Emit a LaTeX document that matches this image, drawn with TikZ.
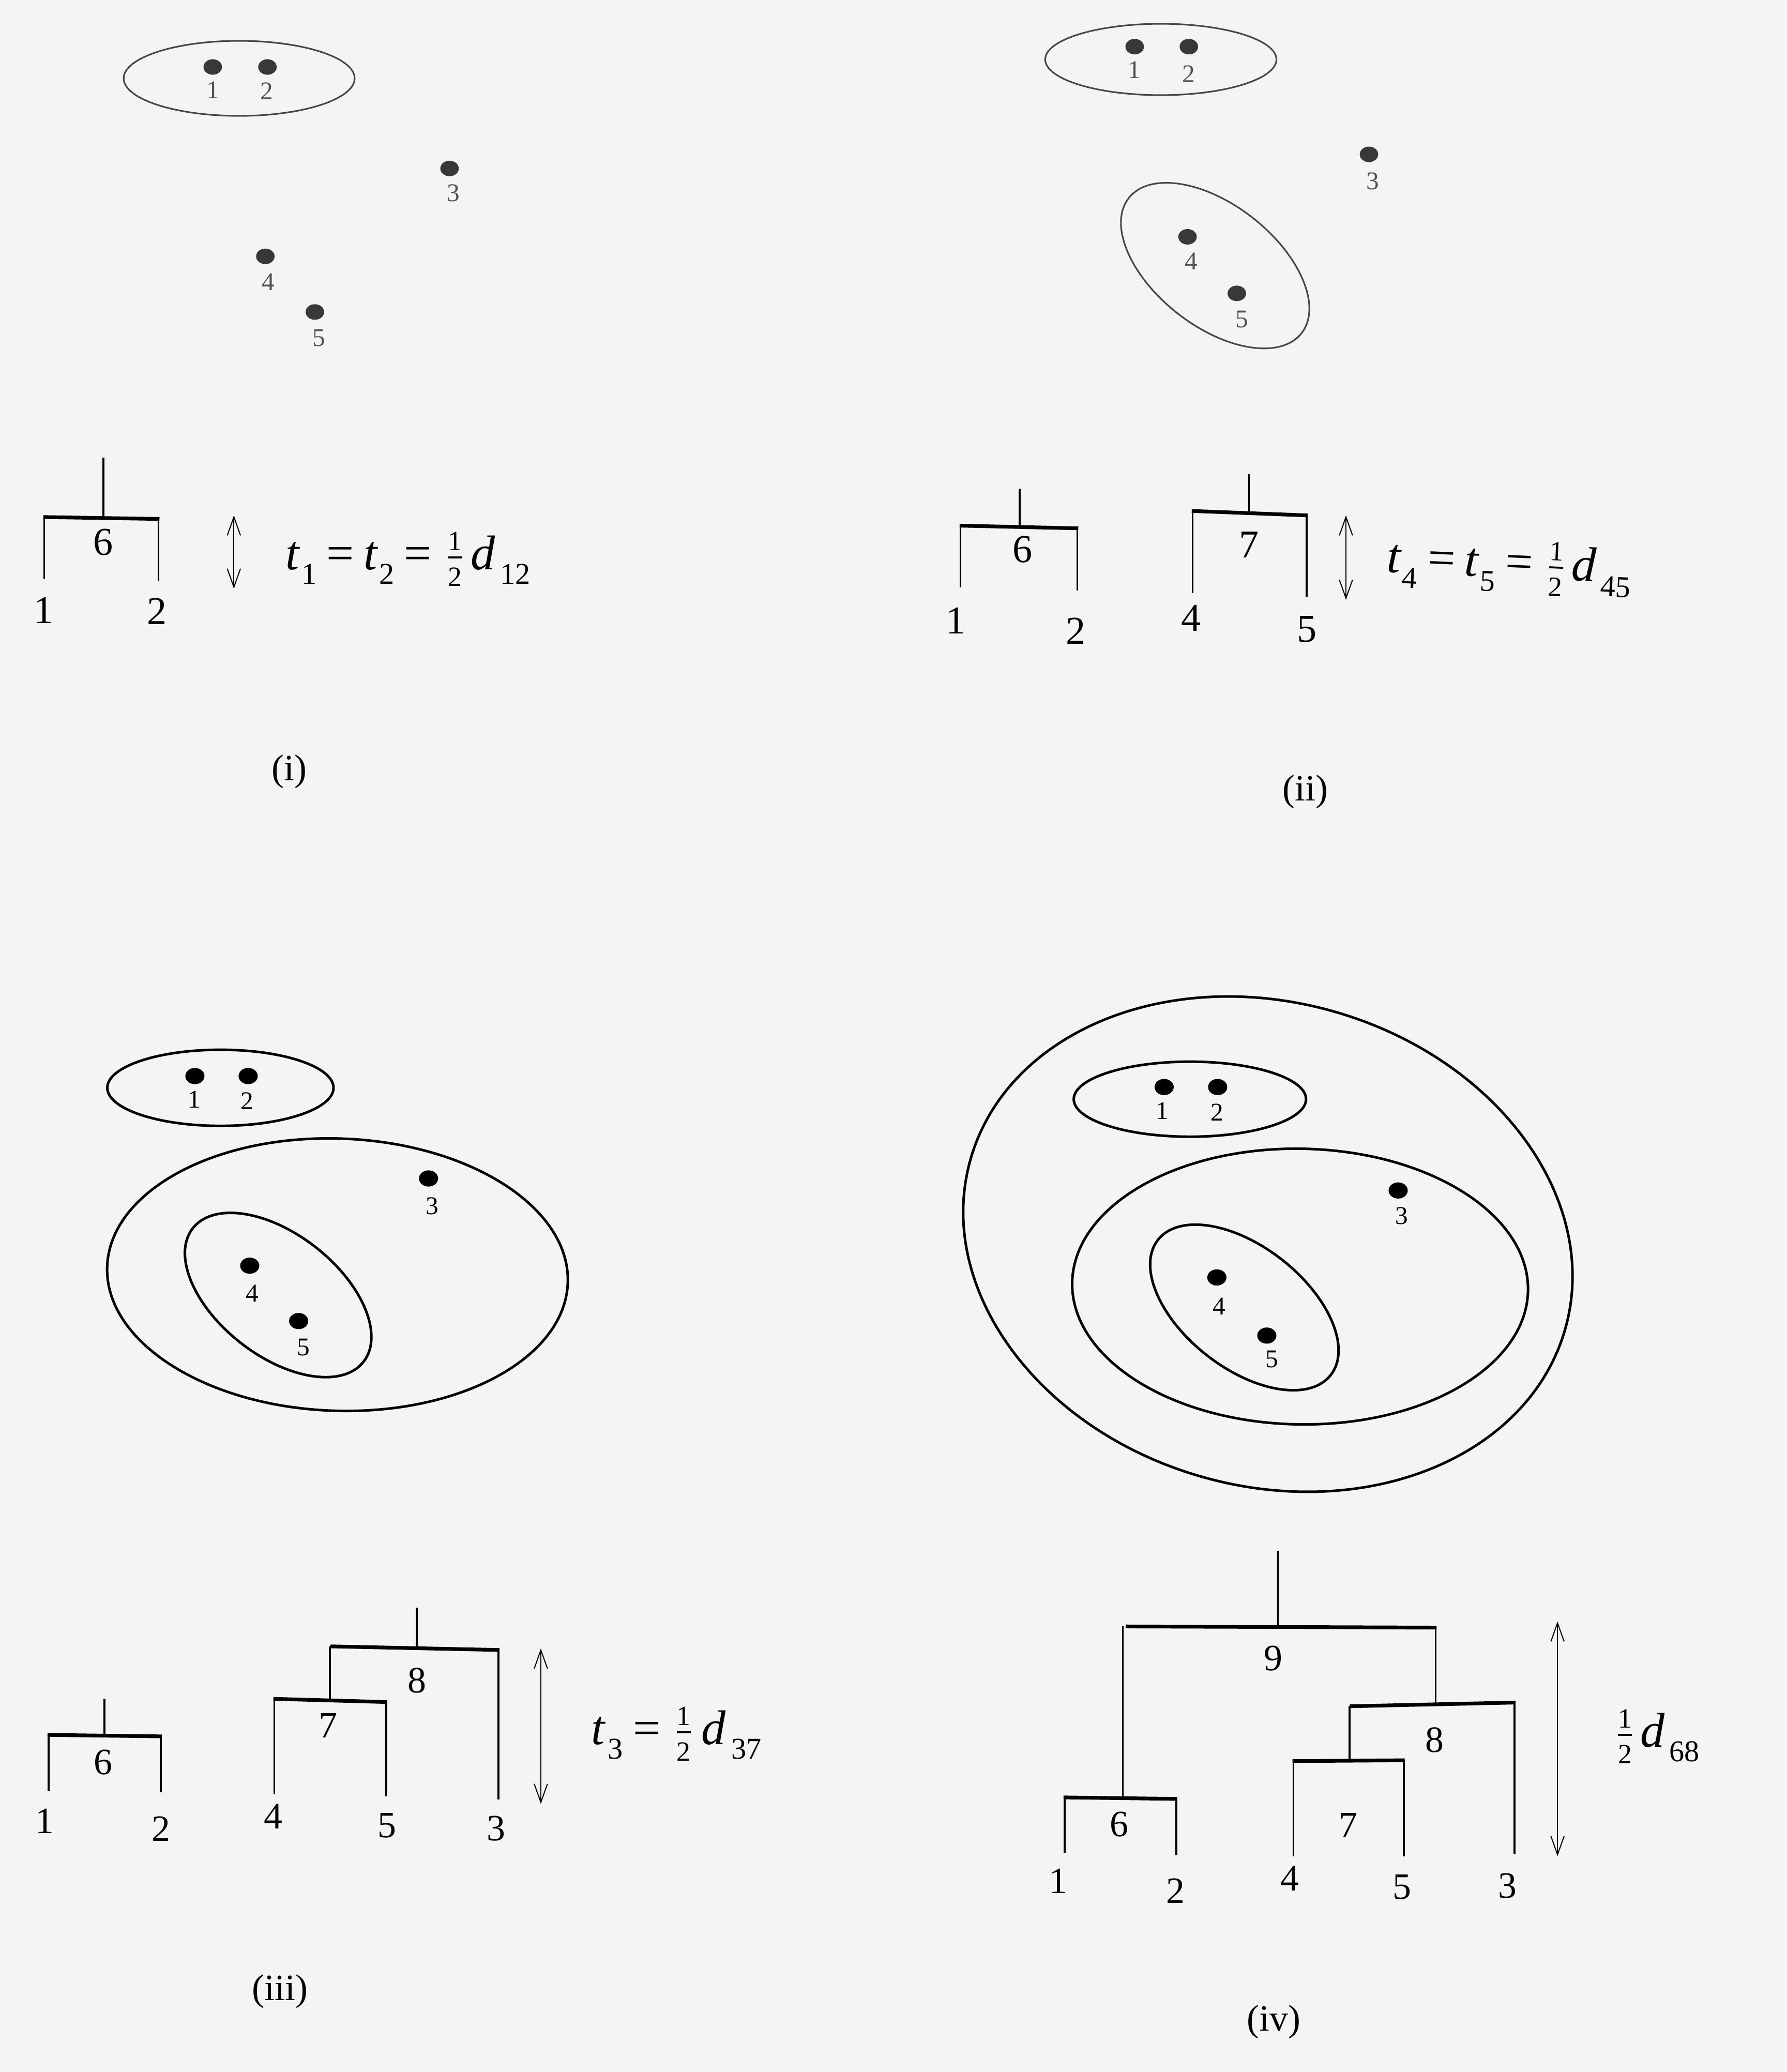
\documentclass[tikz,border=0pt]{standalone}
\usepackage{fontspec}
\setmainfont{Liberation Serif}
\usepackage{amsmath}
\usetikzlibrary{arrows.meta,shapes.geometric}
\definecolor{paper}{RGB}{244,244,242}
\newcommand{\vt}{\textit{t}}
\newcommand{\vd}{\textit{d}}
\newcommand{\sbs}[1]{\raisebox{-0.3em}{\fontsize{13}{15}\selectfont #1}}
\newcommand{\eqs}{\hspace{0.2em}=\hspace{0.2em}}
\newcommand{\half}{\hspace{0.08em}$\tfrac{\text{\fontsize{12}{13}\selectfont 1}}{\text{\fontsize{12}{13}\selectfont 2}}$}
\newcommand{\dbrk}[6]{%
  \draw[vl] (#1,#2) -- (#1,#5);
  \draw[vl] (#3,#4) -- (#3,#6);
  \draw[hb] (#1,#2) -- (#3,#4);}
\tikzset{
  ellA/.style={draw=black!72, line width=0.7pt},
  ellB/.style={draw=black, line width=1.1pt},
  dotA/.style={ellipse, fill=black!78, inner sep=0pt, minimum width=0.28cm, minimum height=0.235cm},
  dotB/.style={ellipse, fill=black, inner sep=0pt, minimum width=0.29cm, minimum height=0.245cm},
  labA/.style={inner sep=0pt, text=black!68, font=\fontsize{11}{13}\selectfont},
  labB/.style={inner sep=0pt, text=black, font=\fontsize{11}{13}\selectfont},
  dlabA/.style={inner sep=0pt, font=\fontsize{17}{20}\selectfont},
  dlabB/.style={inner sep=0pt, font=\fontsize{16}{19}\selectfont},
  vl/.style={line width=0.8pt, line cap=butt},
  hb/.style={line width=1.6pt, shorten <=-0.4pt, shorten >=-0.4pt},
  dbl/.style={line width=0.45pt, {Straight Barb[length=0.28cm,width=0.2cm]}-{Straight Barb[length=0.28cm,width=0.2cm]}},
  frm/.style={inner sep=0pt, anchor=base west, font=\fontsize{21}{24}\selectfont},
  plab/.style={inner sep=0pt, font=\fontsize{16}{19}\selectfont},
}
\begin{document}
\begin{tikzpicture}[x=0.02cm,y=0.02cm]
\useasboundingbox[fill=paper] (0,0) rectangle (1352,-1568);

% ================= panel (i) =================
\draw[ellA] (181,-59.3) ellipse [x radius=87.4, y radius=28.4];
\node[dotA] (ia1) at (161,-50.7) {};
\node[dotA] (ia2) at (202.4,-50.7) {};
\node[dotA] (ia3) at (340.2,-127.5) {};
\node[dotA] (ia4) at (200.8,-194) {};
\node[dotA] (ia5) at (238.3,-236.1) {};
\node[labA] (il1) at (161,-68) {1};
\node[labA] (il2) at (202,-69) {2};
\node[labA] (il3) at (343,-146) {3};
\node[labA] (il4) at (203,-213.4) {4};
\node[labA] (il5) at (241.3,-255.6) {5};

\draw[vl] (78.2,-346.5) -- (78.2,-392);
\dbrk{33.5}{-391.3}{120}{-392.7}{-438.2}{-439.5}
\node[dlabA] (id6) at (78.2,-410.5) {6};
\node[dlabA] (id1) at (33,-462) {1};
\node[dlabA] (id2) at (118.6,-462.6) {2};
\coordinate (iat) at (177,-390);
\coordinate (iab) at (177,-445.5);
\draw[dbl] (iat) -- (iab);
\node[frm] (if) at (216,-431) {\vt\sbs{\hspace{0.04em}1}\eqs\vt\sbs{\hspace{0.04em}2}\eqs\half\hspace{0.12em}\vd\sbs{\hspace{0.16em}12}};
\node[plab] (ip) at (219,-584) {(i)};

% ================= panel (ii) =================
\draw[ellA] (878.5,-45) ellipse [x radius=87.5, y radius=27];
\draw[ellA, rotate around={-38:(919.6,-201)}] (919.6,-201) ellipse [x radius=83, y radius=46];
\node[dotA] (iia1) at (858.7,-35.3) {};
\node[dotA] (iia2) at (899.7,-35.3) {};
\node[dotA] (iia3) at (1036,-116.8) {};
\node[dotA] (iia4) at (898.7,-179.2) {};
\node[dotA] (iia5) at (936,-222) {};
\node[labA] (iil1) at (858.3,-52.8) {1};
\node[labA] (iil2) at (899.4,-56) {2};
\node[labA] (iil3) at (1038.7,-137) {3};
\node[labA] (iil4) at (901.7,-197.8) {4};
\node[labA] (iil5) at (940,-241.5) {5};

\draw[vl] (771.6,-369.8) -- (771.6,-398.6);
\dbrk{726.9}{-397.8}{815.3}{-399.8}{-444.7}{-446.7}
\node[dlabA] (iid6) at (774,-416) {6};
\node[dlabA] (iid1) at (723.4,-469.5) {1};
\node[dlabA] (iid2) at (814.2,-477.3) {2};
\draw[vl] (945.2,-358.7) -- (945.2,-388.4);
\dbrk{902.6}{-386.7}{988.9}{-390}{-448.7}{-451.9}
\node[dlabA] (iid7) at (945.2,-412.1) {7};
\node[dlabA] (iid4) at (901.5,-467.6) {4};
\node[dlabA] (iid5) at (988.9,-476) {5};
\coordinate (iiat) at (1018.6,-390);
\coordinate (iiab) at (1018.6,-453.9);
\draw[dbl] (iiat) -- (iiab);
\node[frm, rotate=-2.5] (iif) at (1049,-433) {\vt\sbs{\hspace{0.04em}4}\eqs\vt\sbs{\hspace{0.04em}5}\eqs\half\hspace{0.12em}\vd\sbs{\hspace{0.16em}45}};
\node[plab] (iip) at (988,-599) {(ii)};

% ================= panel (iii) =================
\draw[ellB] (166.8,-823.2) ellipse [x radius=85.6, y radius=28.8];
\draw[ellB, rotate around={-2:(255.4,-964.6)}] (255.4,-964.6) ellipse [x radius=174.4, y radius=103];
\draw[ellB, rotate around={-38:(210.5,-980)}] (210.5,-980) ellipse [x radius=82, y radius=46];
\node[dotB] (iiia1) at (147.5,-814.3) {};
\node[dotB] (iiia2) at (187.8,-814.3) {};
\node[dotB] (iiia3) at (324.3,-891.8) {};
\node[dotB] (iiia4) at (189,-957.8) {};
\node[dotB] (iiia5) at (226,-999.7) {};
\node[labB] (iiil1) at (147,-832) {1};
\node[labB] (iiil2) at (187,-833) {2};
\node[labB] (iiil3) at (327,-912.8) {3};
\node[labB] (iiil4) at (191,-978.8) {4};
\node[labB] (iiil5) at (229.7,-1019.7) {5};

\draw[vl] (79.1,-1285.6) -- (79.1,-1313.4);
\dbrk{36.7}{-1312.9}{121.8}{-1314}{-1355.4}{-1356.2}
\node[dlabB] (iiid6) at (77.9,-1333.5) {6};
\node[dlabB] (iiid1) at (33.9,-1378) {1};
\node[dlabB] (iiid2) at (121.8,-1383.8) {2};
\draw[vl] (315.4,-1216.7) -- (315.4,-1247.3);
\draw[vl] (249.6,-1246) -- (249.6,-1287);
\dbrk{250.8}{-1245.9}{377.3}{-1248.6}{-1245.9}{-1361.9}
\dbrk{207.6}{-1285.6}{292.3}{-1288}{-1357.8}{-1359.4}
\node[dlabB] (iiid7) at (248.4,-1305.9) {7};
\node[dlabB] (iiid8) at (315.4,-1271.8) {8};
\node[dlabB] (iiid4) at (206.8,-1374.8) {4};
\node[dlabB] (iiid5) at (292.7,-1381.3) {5};
\node[dlabB] (iiid3) at (375.3,-1383.8) {3};
\coordinate (iiiat) at (409.3,-1247.5);
\coordinate (iiiab) at (409.3,-1365.1);
\draw[dbl] (iiiat) -- (iiiab);
\node[frm] (iiif) at (447,-1320) {\vt\sbs{\hspace{0.08em}3}\eqs\half\hspace{0.16em}\vd\sbs{\hspace{0.18em}37}};
\node[plab] (iiip) at (212,-1507) {(iii)};

% ================= panel (iv) =================
\draw[ellB, rotate around={-16:(959.5,-941.5)}] (959.5,-941.5) ellipse [x radius=234, y radius=183];
\draw[ellB, rotate around={-1:(983.9,-973.6)}] (983.9,-973.6) ellipse [x radius=172.5, y radius=104.3];
\draw[ellB] (900.5,-831.8) ellipse [x radius=87.9, y radius=28.4];
\draw[ellB, rotate around={-38:(941.7,-989.4)}] (941.7,-989.4) ellipse [x radius=83, y radius=46];
\node[dotB] (iva1) at (881,-822.6) {};
\node[dotB] (iva2) at (921.5,-822.6) {};
\node[dotB] (iva3) at (1058.1,-900.9) {};
\node[dotB] (iva4) at (920.9,-966.7) {};
\node[dotB] (iva5) at (958.7,-1010.7) {};
\node[labB] (ivl1) at (879.5,-840.5) {1};
\node[labB] (ivl2) at (921,-841.8) {2};
\node[labB] (ivl3) at (1060.6,-920) {3};
\node[labB] (ivl4) at (922.5,-988.7) {4};
\node[labB] (ivl5) at (962.4,-1028.5) {5};

\draw[vl] (967.2,-1173.7) -- (967.2,-1231.2);
\dbrk{852.6}{-1230.8}{1086.5}{-1231.7}{-1230.8}{-1290}
\draw[vl] (849.7,-1230.8) -- (849.7,-1360.7);
\dbrk{805.6}{-1360.2}{890.2}{-1361.3}{-1401.9}{-1403.7}
\dbrk{1022.2}{-1291.2}{1146.2}{-1288.4}{-1291.2}{-1402.8}
\draw[vl] (1021.4,-1291) -- (1021.4,-1332.4);
\dbrk{978.8}{-1332.7}{1062.3}{-1332.1}{-1404.7}{-1404.7}
\node[dlabB] (ivd9) at (963.6,-1255.1) {9};
\node[dlabB] (ivd8) at (1085.8,-1316.8) {8};
\node[dlabB] (ivd7) at (1020.4,-1381.3) {7};
\node[dlabB] (ivd6) at (846.8,-1380.4) {6};
\node[dlabB] (ivd1) at (800.9,-1423.4) {1};
\node[dlabB] (ivd2) at (889.5,-1430.9) {2};
\node[dlabB] (ivd4) at (976.2,-1421.5) {4};
\node[dlabB] (ivd5) at (1061.2,-1428) {5};
\node[dlabB] (ivd3) at (1140.8,-1427.1) {3};
\coordinate (ivat) at (1178.7,-1227);
\coordinate (ivab) at (1178.7,-1404.7);
\draw[dbl] (ivat) -- (ivab);
\node[frm] (ivf) at (1219,-1322) {\half\hspace{0.12em}\vd\sbs{\hspace{0.14em}68}};
\node[plab] (ivp) at (964,-1530) {(iv)};
\end{tikzpicture}
\end{document}
